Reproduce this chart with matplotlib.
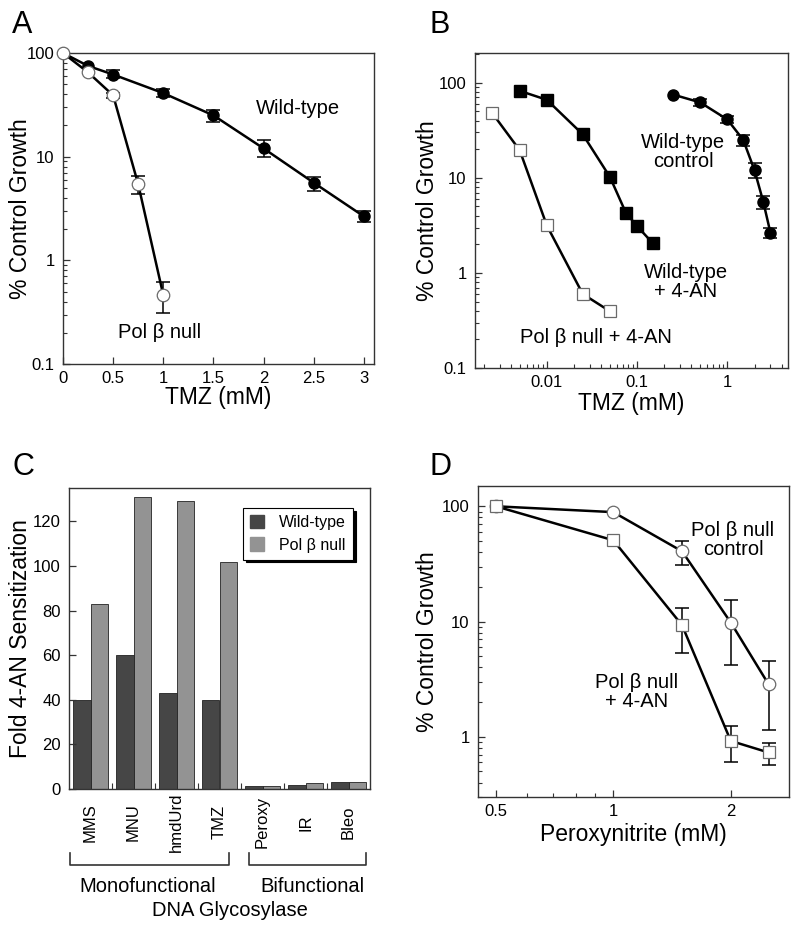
import numpy as np
import matplotlib
matplotlib.use('Agg')
import matplotlib.pyplot as plt
from matplotlib.ticker import FixedLocator, NullFormatter, LogLocator, FixedFormatter
from matplotlib.patches import Patch

plt.rcParams['font.family'] = ['Liberation Sans', 'DejaVu Sans']

# ---------------- data ----------------
# Panel A
tmz_wt = [0, 0.25, 0.5, 1, 1.5, 2, 2.5, 3]
growth_wt = [100, 75, 62, 41, 25, 12, 5.6, 2.65]
wt_lo = [100, 75, 57, 37.7, 21.6, 9.9, 4.7, 2.34]
wt_hi = [100, 75, 68, 45, 28.4, 14.4, 6.4, 2.97]
tmz_null = [0, 0.25, 0.5, 0.75, 1]
growth_null = [100, 65, 39, 5.4, 0.46]
null_lo = [100, 65, 37, 4.4, 0.31]
null_hi = [100, 65, 41, 6.45, 0.62]

# Panel B
tmz_wt_ctrl = [0.25, 0.5, 1, 1.5, 2, 2.5, 3]
growth_wt_ctrl = [75, 62, 41, 25, 12, 5.6, 2.65]
wt_ctrl_lo = [75, 57, 37.7, 21.6, 9.9, 4.7, 2.34]
wt_ctrl_hi = [75, 68, 45, 28.4, 14.4, 6.4, 2.97]
tmz_wt_4an = [0.005, 0.01, 0.025, 0.05, 0.075, 0.1, 0.15]
growth_wt_4an = [82, 66, 28.6, 10.2, 4.3, 3.1, 2.04]
tmz_null_4an = [0.0025, 0.005, 0.01, 0.025, 0.05]
growth_null_4an = [47.5, 19.5, 3.15, 0.6, 0.395]

# Panel C
agents = ['MMS', 'MNU', 'hmdUrd', 'TMZ', 'Peroxy', 'IR', 'Bleo']
fold_wt = [40, 60, 43, 40, 1.2, 2.0, 3.2]
fold_null = [83, 131, 129, 102, 1.2, 2.9, 3.1]

# Panel D
perox = [0.5, 1, 1.5, 2, 2.5]
growth_ctrl = [100, 89, 40.7, 9.8, 2.85]
ctrl_lo = [100, 89, 31.2, 4.2, 1.14]
ctrl_hi = [100, 89, 49.8, 15.3, 4.56]
growth_4an = [100, 50.7, 9.3, 0.92, 0.73]
an_lo = [100, 50.7, 5.3, 0.6, 0.57]
an_hi = [100, 50.7, 13.1, 1.24, 0.89]

# ---------------- style ----------------
TICK_FS = 12
LABEL_FS = 16.5
ANN_FS = 14.5
SPINE_C = '#333333'
OPEN_EC = '#6a6a6a'

fig = plt.figure(figsize=(8, 9.32), dpi=100)

def add_axes_px(left, top, right, bottom):
    W, H = 800, 932
    return fig.add_axes([left / W, 1 - bottom / H, (right - left) / W, (bottom - top) / H])

def style_axes(ax):
    for s in ax.spines.values():
        s.set_color(SPINE_C)
        s.set_linewidth(1.0)
    ax.tick_params(which='both', direction='in', top=False, right=False,
                   labelsize=TICK_FS, color=SPINE_C)
    ax.tick_params(which='major', length=5, width=0.9)
    ax.tick_params(which='minor', length=3, width=0.8)
    ax.tick_params(axis='y', which='both', pad=6)
    ax.tick_params(axis='x', which='both', pad=5)

def errbars(ax, x, y, lo, hi):
    xs, ys, el, eh = [], [], [], []
    for xi, yi, l, h in zip(x, y, lo, hi):
        if h - l > 0:
            xs.append(xi); ys.append(yi); el.append(yi - l); eh.append(h - yi)
    if xs:
        ax.errorbar(xs, ys, yerr=[el, eh], fmt='none', ecolor='black',
                    elinewidth=1.1, capsize=5, capthick=1.1, zorder=2.5)

def series(ax, x, y, marker, filled, ms=8):
    ax.plot(x, y, color='black', lw=1.8, zorder=2, clip_on=False)
    if filled:
        ax.plot(x, y, linestyle='none', marker=marker, ms=ms, mfc='black',
                mec='black', zorder=3, clip_on=False)
    else:
        ax.plot(x, y, linestyle='none', marker=marker, ms=ms, mfc='white',
                mec=OPEN_EC, mew=0.9, zorder=3, clip_on=False)

# ---------------- Panel A ----------------
axA = add_axes_px(63, 53, 374, 364)
style_axes(axA)
axA.set_yscale('log')
axA.set_xlim(0, 3.1)
axA.set_ylim(0.1, 100)
series(axA, tmz_wt, growth_wt, 'o', True)
errbars(axA, tmz_wt, growth_wt, wt_lo, wt_hi)
series(axA, tmz_null, growth_null, 'o', False, ms=9)
errbars(axA, tmz_null, growth_null, null_lo, null_hi)
axA.set_xticks([0, 0.5, 1, 1.5, 2, 2.5, 3])
axA.set_xticklabels(['0', '0.5', '1', '1.5', '2', '2.5', '3'])
axA.yaxis.set_major_locator(FixedLocator([0.1, 1, 10, 100]))
axA.yaxis.set_major_formatter(FixedFormatter(['0.1', '1', '10', '100']))
axA.yaxis.set_minor_locator(LogLocator(base=10, subs=np.arange(2, 10)))
axA.yaxis.set_minor_formatter(NullFormatter())
axA.set_xlabel('TMZ (mM)', fontsize=LABEL_FS)
axA.set_ylabel('% Control Growth', fontsize=LABEL_FS)
axA.xaxis.set_label_coords(0.5, -0.07)
axA.yaxis.set_label_coords(-0.10, 0.5)
axA.text(0.756, 0.823, 'Wild-type', transform=axA.transAxes, ha='center', va='center', fontsize=ANN_FS)
axA.text(0.312, 0.10, 'Pol β null', transform=axA.transAxes, ha='center', va='center', fontsize=ANN_FS)

# ---------------- Panel B ----------------
axB = add_axes_px(475, 53, 788, 368)
style_axes(axB)
axB.set_xscale('log')
axB.set_yscale('log')
axB.set_xlim(0.0016, 4.7)
axB.set_ylim(0.1, 205)
series(axB, tmz_wt_ctrl, growth_wt_ctrl, 'o', True)
errbars(axB, tmz_wt_ctrl, growth_wt_ctrl, wt_ctrl_lo, wt_ctrl_hi)
series(axB, tmz_wt_4an, growth_wt_4an, 's', True, ms=8.5)
series(axB, tmz_null_4an, growth_null_4an, 's', False, ms=9)
axB.xaxis.set_major_locator(FixedLocator([0.01, 0.1, 1]))
axB.xaxis.set_major_formatter(FixedFormatter(['0.01', '0.1', '1']))
axB.xaxis.set_minor_locator(LogLocator(base=10, subs=np.arange(2, 10)))
axB.xaxis.set_minor_formatter(NullFormatter())
axB.yaxis.set_major_locator(FixedLocator([0.1, 1, 10, 100]))
axB.yaxis.set_major_formatter(FixedFormatter(['0.1', '1', '10', '100']))
axB.yaxis.set_minor_locator(LogLocator(base=10, subs=np.arange(2, 10)))
axB.yaxis.set_minor_formatter(NullFormatter())
axB.set_xlabel('TMZ (mM)', fontsize=LABEL_FS)
axB.set_ylabel('% Control Growth', fontsize=LABEL_FS)
axB.xaxis.set_label_coords(0.5, -0.075)
axB.yaxis.set_label_coords(-0.115, 0.5)
axB.text(0.665, 0.686, 'Wild-type\ncontrol', transform=axB.transAxes, ha='center', va='center',
         fontsize=ANN_FS, linespacing=1.0)
axB.text(0.674, 0.273, 'Wild-type\n+ 4-AN', transform=axB.transAxes, ha='center', va='center',
         fontsize=ANN_FS, linespacing=1.0)
axB.text(0.387, 0.098, 'Pol β null + 4-AN', transform=axB.transAxes, ha='center', va='center',
         fontsize=ANN_FS)

# ---------------- Panel C ----------------
axC = add_axes_px(69, 488, 370, 789)
style_axes(axC)
pos = np.arange(len(agents))
bw = 0.4
axC.bar(pos - bw / 2, fold_wt, width=bw, color='#464646', edgecolor='#222222', linewidth=0.6,
        label='Wild-type')
axC.bar(pos + bw / 2, fold_null, width=bw, color='#939393', edgecolor='#222222', linewidth=0.6,
        label='Pol β null')
axC.set_xlim(-0.5, 6.5)
axC.set_ylim(0, 135)
axC.set_yticks([0, 20, 40, 60, 80, 100, 120])
axC.set_xticks(pos)
axC.set_xticklabels(agents, rotation=90, fontsize=12)
for lab in axC.get_xticklabels():
    lab.set_va('center')
axC.tick_params(axis='x', which='major', length=0, pad=24)
axC.xaxis.set_minor_locator(FixedLocator(pos[:-1] + 0.5))
axC.tick_params(axis='x', which='minor', length=4)
axC.set_ylabel('Fold 4-AN Sensitization', fontsize=LABEL_FS)
axC.yaxis.set_label_coords(-0.123, 0.5)
leg = axC.legend(handles=[Patch(facecolor='#464646', edgecolor='#464646', label='Wild-type'),
                          Patch(facecolor='#939393', edgecolor='#939393', label='Pol β null')],
                 loc='upper right', bbox_to_anchor=(0.943, 0.934), fontsize=11.5,
                 frameon=True, fancybox=False, shadow={'color': 'black', 'alpha': 1.0},
                 edgecolor='black', handlelength=0.9, handleheight=0.9, borderpad=0.45,
                 labelspacing=0.45, handletextpad=0.9, borderaxespad=0)
leg.get_frame().set_linewidth(0.8)

# brackets and group labels (figure pixel coords)
def fig_line(xs, ys):
    fig.add_artist(plt.Line2D([x / 800 for x in xs], [1 - y / 932 for y in ys],
                              color='#333333', lw=1.2))

fig_line([70, 70, 229, 229], [853, 865, 865, 853])
fig_line([249, 249, 366, 366], [853, 865, 865, 853])
fig.text(148 / 800, 1 - 886 / 932, 'Monofunctional', ha='center', va='center', fontsize=14.5)
fig.text(312 / 800, 1 - 886 / 932, 'Bifunctional', ha='center', va='center', fontsize=14.5)
fig.text(230 / 800, 1 - 910 / 932, 'DNA Glycosylase', ha='center', va='center', fontsize=14.5)

# ---------------- Panel D ----------------
axD = add_axes_px(478, 486, 789, 797)
style_axes(axD)
axD.set_xscale('log')
axD.set_yscale('log')
axD.set_xlim(0.45, 2.82)
axD.set_ylim(0.3, 150)
series(axD, perox, growth_ctrl, 'o', False, ms=9)
errbars(axD, perox, growth_ctrl, ctrl_lo, ctrl_hi)
series(axD, perox, growth_4an, 's', False, ms=9)
errbars(axD, perox, growth_4an, an_lo, an_hi)
axD.xaxis.set_major_locator(FixedLocator([0.5, 1, 2]))
axD.xaxis.set_major_formatter(FixedFormatter(['0.5', '1', '2']))
axD.xaxis.set_minor_locator(FixedLocator([0.6, 0.7, 0.8, 0.9]))
axD.xaxis.set_minor_formatter(NullFormatter())
axD.yaxis.set_major_locator(FixedLocator([1, 10, 100]))
axD.yaxis.set_major_formatter(FixedFormatter(['1', '10', '100']))
axD.yaxis.set_minor_locator(LogLocator(base=10, subs=np.arange(2, 10)))
axD.yaxis.set_minor_formatter(NullFormatter())
axD.set_xlabel('Peroxynitrite (mM)', fontsize=LABEL_FS)
axD.set_ylabel('% Control Growth', fontsize=LABEL_FS)
axD.xaxis.set_label_coords(0.5, -0.085)
axD.yaxis.set_label_coords(-0.125, 0.5)
axD.text(0.82, 0.826, 'Pol β null\ncontrol', transform=axD.transAxes, ha='center', va='center',
         fontsize=ANN_FS, linespacing=1.0)
axD.text(0.511, 0.338, 'Pol β null\n+ 4-AN', transform=axD.transAxes, ha='center', va='center',
         fontsize=ANN_FS, linespacing=1.0)

# ---------------- panel letters ----------------
for letter, x, y in [('A', 12, 33), ('B', 430, 33), ('C', 13, 475), ('D', 430, 475)]:
    fig.text(x / 800, 1 - y / 932, letter, ha='left', va='baseline', fontsize=22)

fig.savefig('out.png', dpi=100)
